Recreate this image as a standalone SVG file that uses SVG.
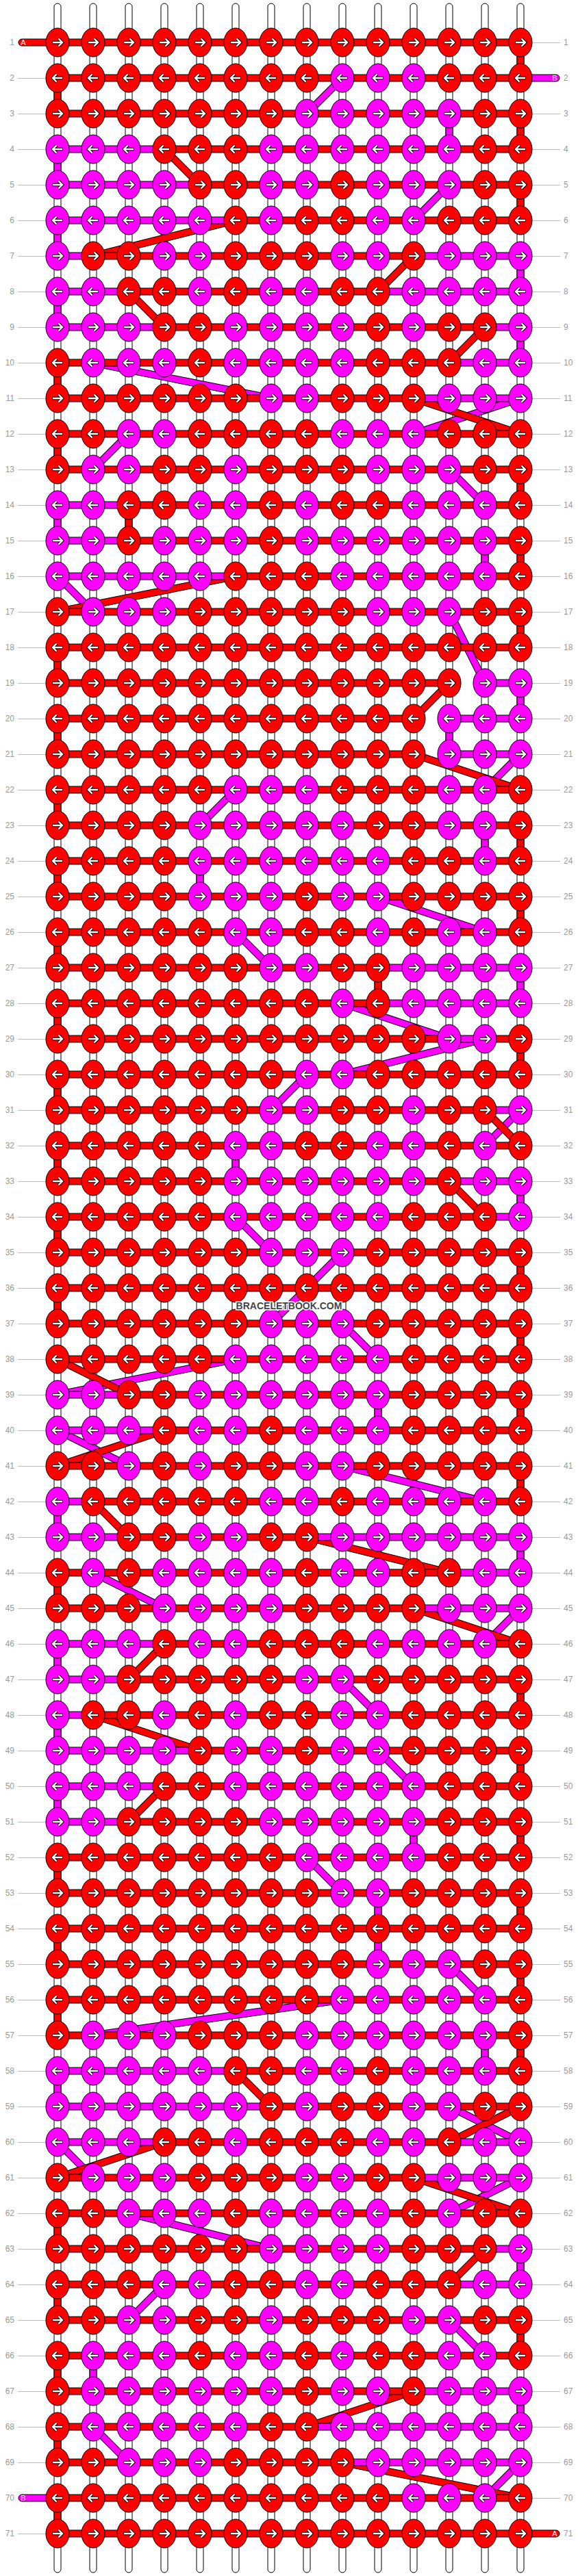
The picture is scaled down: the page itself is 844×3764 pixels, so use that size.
<svg xmlns="http://www.w3.org/2000/svg" xmlns:xlink="http://www.w3.org/1999/xlink" width="844" height="3764" viewBox="0 0 844 3764">
<style>
.st{fill:#fff;stroke:#000;stroke-width:1}
.bR{fill:#f00;stroke:#000;stroke-width:1}
.bM{fill:#f0f;stroke:#000;stroke-width:1}
.gl{stroke:#bbb;stroke-width:1}
.ll{font-family:"Liberation Sans",Arial,sans-serif;font-size:12px;fill:#999;text-anchor:end}
.lr{font-family:"Liberation Sans",Arial,sans-serif;font-size:12px;fill:#999;text-anchor:start}
.tl{font-family:"Liberation Sans",Arial,sans-serif;font-size:11px;fill:#fff;text-anchor:middle}
.wm{font-family:"Liberation Sans",Arial,sans-serif;font-size:14px;font-weight:bold;fill:#444;stroke:#fff;stroke-width:3;paint-order:stroke;text-anchor:middle}
</style>
<defs>
<g id="ar"><path d="M-7.5,0H6.5M1.5,-5.5L7,0L1.5,5.5" fill="none" stroke="#000" stroke-width="4.4"/><path d="M-7,0H6.5M1.5,-5.5L7,0L1.5,5.5" fill="none" stroke="#fff" stroke-width="2.4"/></g>
<g id="al"><use href="#ar" transform="scale(-1,1)"/></g>
<g id="a"><ellipse rx="17" ry="21" fill="#f00" stroke="#000"/><use href="#ar"/></g>
<g id="b"><ellipse rx="17" ry="21" fill="#f0f" stroke="#000"/><use href="#ar"/></g>
<g id="c"><ellipse rx="17" ry="21" fill="#f00" stroke="#000"/><use href="#al"/></g>
<g id="d"><ellipse rx="17" ry="21" fill="#f0f" stroke="#000"/><use href="#al"/></g>
<path id="cm" d="M500,114L448,166M656,166L656,218M84,218L84,270M656,270L604,322M84,322L84,374M760,374L760,426M84,426L84,478M760,478L760,530M136,530L396,582M760,582L604,634M188,634L136,686M656,686L708,738M84,738L84,790M708,790L708,842M84,842L136,894M656,894L708,998M760,998L760,1050M656,1050L656,1102M760,1102L708,1154M344,1154L292,1206M708,1206L708,1258M292,1258L292,1310M552,1310L708,1362M344,1362L396,1414M760,1414L760,1466M500,1466L656,1518M708,1518L500,1570M448,1570L396,1622M760,1622L708,1674M344,1674L344,1726M760,1726L760,1778M344,1778L396,1830M500,1830L396,1934M500,1934L552,1986M344,1986L84,2038M552,2038L552,2090M84,2090L188,2142M500,2142L708,2194M84,2194L84,2246M760,2246L760,2298M136,2298L240,2350M760,2350L708,2402M84,2402L84,2454M500,2454L552,2506M84,2506L84,2558M552,2558L604,2610M84,2610L84,2662M604,2662L604,2714M448,2714L500,2766M552,2766L552,2870M656,2870L708,2922M500,2922L136,2974M708,2974L708,3026M84,3026L84,3078M656,3078L760,3130M84,3130L136,3182M760,3182L656,3234M188,3234L396,3286M760,3286L760,3338M240,3338L188,3390M656,3390L708,3442M136,3442L136,3494M760,3494L760,3546M136,3546L188,3598M760,3598L708,3650"/>
<path id="cr" d="M760,62L760,114M84,114L84,166M760,166L760,218M240,218L292,270M760,270L760,322M344,322L136,374M604,374L552,426M188,426L240,478M708,478L656,530M84,530L84,582M604,582L760,634M84,634L84,686M760,686L760,738M188,738L188,790M760,790L760,842M344,842L84,894M760,894L760,946M84,946L84,998M656,998L604,1050M84,1050L84,1102M604,1102L760,1154M84,1154L84,1206M760,1206L760,1258M84,1258L84,1310M760,1310L760,1362M84,1362L84,1414M552,1414L552,1466M84,1466L84,1518M760,1518L760,1570M84,1570L84,1622M708,1622L760,1674M84,1674L84,1726M656,1726L708,1778M84,1778L84,1830M760,1830L760,1882M84,1882L84,1934M760,1934L760,1986M84,1986L188,2038M760,2038L760,2090M240,2090L84,2142M760,2142L760,2194M136,2194L188,2246M448,2246L656,2298M84,2298L84,2350M604,2350L760,2402M240,2402L188,2454M760,2454L760,2506M136,2506L292,2558M760,2558L760,2610M240,2610L188,2662M760,2662L760,2714M84,2714L84,2766M760,2766L760,2818M84,2818L84,2870M760,2870L760,2922M84,2922L84,2974M760,2974L760,3026M344,3026L396,3078M760,3078L656,3130M240,3130L84,3182M604,3182L760,3234M84,3234L84,3286M708,3286L656,3338M84,3338L84,3390M760,3390L760,3442M84,3442L84,3494M604,3494L448,3546M84,3546L84,3598M500,3598L760,3650M84,3650L84,3702"/>
</defs>
<rect width="844" height="3764" fill="#fff"/>
<g id="strings">
<rect class="st" x="79" y="5" width="10" height="3754" rx="5"/>
<rect class="st" x="131" y="5" width="10" height="3754" rx="5"/>
<rect class="st" x="183" y="5" width="10" height="3754" rx="5"/>
<rect class="st" x="235" y="5" width="10" height="3754" rx="5"/>
<rect class="st" x="287" y="5" width="10" height="3754" rx="5"/>
<rect class="st" x="339" y="5" width="10" height="3754" rx="5"/>
<rect class="st" x="391" y="5" width="10" height="3754" rx="5"/>
<rect class="st" x="443" y="5" width="10" height="3754" rx="5"/>
<rect class="st" x="495" y="5" width="10" height="3754" rx="5"/>
<rect class="st" x="547" y="5" width="10" height="3754" rx="5"/>
<rect class="st" x="599" y="5" width="10" height="3754" rx="5"/>
<rect class="st" x="651" y="5" width="10" height="3754" rx="5"/>
<rect class="st" x="703" y="5" width="10" height="3754" rx="5"/>
<rect class="st" x="755" y="5" width="10" height="3754" rx="5"/>
</g>
<g id="connectors" fill="none">
<use href="#cm" stroke="#000" stroke-width="11"/>
<use href="#cm" stroke="#f0f" stroke-width="9"/>
<use href="#cr" stroke="#000" stroke-width="11"/>
<use href="#cr" stroke="#f00" stroke-width="9"/>
</g>
<g id="row1" transform="translate(0,62)"><line class="gl" x1="777" y1="0.5" x2="818" y2="0.5"/><text class="ll" x="21" y="4">1</text><text class="lr" x="823" y="4">1</text><rect class="bR" x="27" y="-5" width="62" height="10" rx="5"/><text class="tl" x="34" y="4">A</text><rect class="bR" x="84" y="-5" width="676" height="10"/>
<use id="k1_1" href="#a" x="84"/><use id="k1_2" href="#a" x="136"/><use id="k1_3" href="#a" x="188"/><use id="k1_4" href="#a" x="240"/><use id="k1_5" href="#a" x="292"/><use id="k1_6" href="#a" x="344"/><use id="k1_7" href="#a" x="396"/><use id="k1_8" href="#a" x="448"/><use id="k1_9" href="#a" x="500"/><use id="k1_10" href="#a" x="552"/><use id="k1_11" href="#a" x="604"/><use id="k1_12" href="#a" x="656"/><use id="k1_13" href="#a" x="708"/><use id="k1_14" href="#a" x="760"/></g>
<g id="row2" transform="translate(0,114)"><line class="gl" x1="26" y1="0.5" x2="67" y2="0.5"/><text class="ll" x="21" y="4">2</text><text class="lr" x="823" y="4">2</text><rect class="bM" x="755" y="-5" width="62" height="10" rx="5"/><text class="tl" x="810" y="4">B</text><rect class="bR" x="84" y="-5" width="676" height="10"/>
<use id="k2_1" href="#c" x="84"/><use id="k2_2" href="#c" x="136"/><use id="k2_3" href="#c" x="188"/><use id="k2_4" href="#c" x="240"/><use id="k2_5" href="#c" x="292"/><use id="k2_6" href="#c" x="344"/><use id="k2_7" href="#c" x="396"/><use id="k2_8" href="#c" x="448"/><use id="k2_9" href="#d" x="500"/><use id="k2_10" href="#d" x="552"/><use id="k2_11" href="#d" x="604"/><use id="k2_12" href="#c" x="656"/><use id="k2_13" href="#c" x="708"/><use id="k2_14" href="#c" x="760"/></g>
<g id="row3" transform="translate(0,166)"><line class="gl" x1="26" y1="0.5" x2="67" y2="0.5"/><line class="gl" x1="777" y1="0.5" x2="818" y2="0.5"/><text class="ll" x="21" y="4">3</text><text class="lr" x="823" y="4">3</text><rect class="bR" x="84" y="-5" width="676" height="10"/>
<use id="k3_1" href="#a" x="84"/><use id="k3_2" href="#a" x="136"/><use id="k3_3" href="#a" x="188"/><use id="k3_4" href="#a" x="240"/><use id="k3_5" href="#a" x="292"/><use id="k3_6" href="#a" x="344"/><use id="k3_7" href="#a" x="396"/><use id="k3_8" href="#b" x="448"/><use id="k3_9" href="#b" x="500"/><use id="k3_10" href="#b" x="552"/><use id="k3_11" href="#b" x="604"/><use id="k3_12" href="#b" x="656"/><use id="k3_13" href="#a" x="708"/><use id="k3_14" href="#a" x="760"/></g>
<g id="row4" transform="translate(0,218)"><line class="gl" x1="26" y1="0.5" x2="67" y2="0.5"/><line class="gl" x1="777" y1="0.5" x2="818" y2="0.5"/><text class="ll" x="21" y="4">4</text><text class="lr" x="823" y="4">4</text><rect class="bM" x="84" y="-5" width="156" height="10"/><rect class="bR" x="240" y="-5" width="520" height="10"/>
<use id="k4_1" href="#d" x="84"/><use id="k4_2" href="#d" x="136"/><use id="k4_3" href="#d" x="188"/><use id="k4_4" href="#c" x="240"/><use id="k4_5" href="#c" x="292"/><use id="k4_6" href="#c" x="344"/><use id="k4_7" href="#d" x="396"/><use id="k4_8" href="#d" x="448"/><use id="k4_9" href="#d" x="500"/><use id="k4_10" href="#d" x="552"/><use id="k4_11" href="#d" x="604"/><use id="k4_12" href="#d" x="656"/><use id="k4_13" href="#c" x="708"/><use id="k4_14" href="#c" x="760"/></g>
<g id="row5" transform="translate(0,270)"><line class="gl" x1="26" y1="0.5" x2="67" y2="0.5"/><line class="gl" x1="777" y1="0.5" x2="818" y2="0.5"/><text class="ll" x="21" y="4">5</text><text class="lr" x="823" y="4">5</text><rect class="bM" x="84" y="-5" width="208" height="10"/><rect class="bR" x="292" y="-5" width="468" height="10"/>
<use id="k5_1" href="#b" x="84"/><use id="k5_2" href="#b" x="136"/><use id="k5_3" href="#b" x="188"/><use id="k5_4" href="#b" x="240"/><use id="k5_5" href="#a" x="292"/><use id="k5_6" href="#a" x="344"/><use id="k5_7" href="#b" x="396"/><use id="k5_8" href="#b" x="448"/><use id="k5_9" href="#a" x="500"/><use id="k5_10" href="#b" x="552"/><use id="k5_11" href="#b" x="604"/><use id="k5_12" href="#b" x="656"/><use id="k5_13" href="#a" x="708"/><use id="k5_14" href="#a" x="760"/></g>
<g id="row6" transform="translate(0,322)"><line class="gl" x1="26" y1="0.5" x2="67" y2="0.5"/><line class="gl" x1="777" y1="0.5" x2="818" y2="0.5"/><text class="ll" x="21" y="4">6</text><text class="lr" x="823" y="4">6</text><rect class="bM" x="84" y="-5" width="260" height="10"/><rect class="bR" x="344" y="-5" width="416" height="10"/>
<use id="k6_1" href="#d" x="84"/><use id="k6_2" href="#d" x="136"/><use id="k6_3" href="#d" x="188"/><use id="k6_4" href="#d" x="240"/><use id="k6_5" href="#d" x="292"/><use id="k6_6" href="#c" x="344"/><use id="k6_7" href="#d" x="396"/><use id="k6_8" href="#c" x="448"/><use id="k6_9" href="#c" x="500"/><use id="k6_10" href="#d" x="552"/><use id="k6_11" href="#d" x="604"/><use id="k6_12" href="#c" x="656"/><use id="k6_13" href="#c" x="708"/><use id="k6_14" href="#c" x="760"/></g>
<g id="row7" transform="translate(0,374)"><line class="gl" x1="26" y1="0.5" x2="67" y2="0.5"/><line class="gl" x1="777" y1="0.5" x2="818" y2="0.5"/><text class="ll" x="21" y="4">7</text><text class="lr" x="823" y="4">7</text><rect class="bM" x="84" y="-5" width="52" height="10"/><rect class="bR" x="136" y="-5" width="468" height="10"/><rect class="bM" x="604" y="-5" width="156" height="10"/>
<use id="k7_1" href="#b" x="84"/><use id="k7_2" href="#a" x="136"/><use id="k7_3" href="#a" x="188"/><use id="k7_4" href="#b" x="240"/><use id="k7_5" href="#b" x="292"/><use id="k7_6" href="#a" x="344"/><use id="k7_7" href="#a" x="396"/><use id="k7_8" href="#a" x="448"/><use id="k7_9" href="#b" x="500"/><use id="k7_10" href="#b" x="552"/><use id="k7_11" href="#a" x="604"/><use id="k7_12" href="#b" x="656"/><use id="k7_13" href="#b" x="708"/><use id="k7_14" href="#b" x="760"/></g>
<g id="row8" transform="translate(0,426)"><line class="gl" x1="26" y1="0.5" x2="67" y2="0.5"/><line class="gl" x1="777" y1="0.5" x2="818" y2="0.5"/><text class="ll" x="21" y="4">8</text><text class="lr" x="823" y="4">8</text><rect class="bM" x="84" y="-5" width="104" height="10"/><rect class="bR" x="188" y="-5" width="364" height="10"/><rect class="bM" x="552" y="-5" width="208" height="10"/>
<use id="k8_1" href="#d" x="84"/><use id="k8_2" href="#d" x="136"/><use id="k8_3" href="#c" x="188"/><use id="k8_4" href="#c" x="240"/><use id="k8_5" href="#d" x="292"/><use id="k8_6" href="#c" x="344"/><use id="k8_7" href="#d" x="396"/><use id="k8_8" href="#d" x="448"/><use id="k8_9" href="#c" x="500"/><use id="k8_10" href="#c" x="552"/><use id="k8_11" href="#d" x="604"/><use id="k8_12" href="#d" x="656"/><use id="k8_13" href="#d" x="708"/><use id="k8_14" href="#d" x="760"/></g>
<g id="row9" transform="translate(0,478)"><line class="gl" x1="26" y1="0.5" x2="67" y2="0.5"/><line class="gl" x1="777" y1="0.5" x2="818" y2="0.5"/><text class="ll" x="21" y="4">9</text><text class="lr" x="823" y="4">9</text><rect class="bM" x="84" y="-5" width="156" height="10"/><rect class="bR" x="240" y="-5" width="468" height="10"/><rect class="bM" x="708" y="-5" width="52" height="10"/>
<use id="k9_1" href="#b" x="84"/><use id="k9_2" href="#b" x="136"/><use id="k9_3" href="#b" x="188"/><use id="k9_4" href="#a" x="240"/><use id="k9_5" href="#a" x="292"/><use id="k9_6" href="#b" x="344"/><use id="k9_7" href="#b" x="396"/><use id="k9_8" href="#b" x="448"/><use id="k9_9" href="#b" x="500"/><use id="k9_10" href="#a" x="552"/><use id="k9_11" href="#b" x="604"/><use id="k9_12" href="#a" x="656"/><use id="k9_13" href="#a" x="708"/><use id="k9_14" href="#b" x="760"/></g>
<g id="row10" transform="translate(0,530)"><line class="gl" x1="26" y1="0.5" x2="67" y2="0.5"/><line class="gl" x1="777" y1="0.5" x2="818" y2="0.5"/><text class="ll" x="21" y="4">10</text><text class="lr" x="823" y="4">10</text><rect class="bR" x="84" y="-5" width="572" height="10"/><rect class="bM" x="656" y="-5" width="104" height="10"/>
<use id="k10_1" href="#c" x="84"/><use id="k10_2" href="#d" x="136"/><use id="k10_3" href="#d" x="188"/><use id="k10_4" href="#d" x="240"/><use id="k10_5" href="#c" x="292"/><use id="k10_6" href="#d" x="344"/><use id="k10_7" href="#d" x="396"/><use id="k10_8" href="#d" x="448"/><use id="k10_9" href="#d" x="500"/><use id="k10_10" href="#c" x="552"/><use id="k10_11" href="#c" x="604"/><use id="k10_12" href="#c" x="656"/><use id="k10_13" href="#d" x="708"/><use id="k10_14" href="#d" x="760"/></g>
<g id="row11" transform="translate(0,582)"><line class="gl" x1="26" y1="0.5" x2="67" y2="0.5"/><line class="gl" x1="777" y1="0.5" x2="818" y2="0.5"/><text class="ll" x="21" y="4">11</text><text class="lr" x="823" y="4">11</text><rect class="bR" x="84" y="-5" width="520" height="10"/><rect class="bM" x="604" y="-5" width="156" height="10"/>
<use id="k11_1" href="#a" x="84"/><use id="k11_2" href="#a" x="136"/><use id="k11_3" href="#a" x="188"/><use id="k11_4" href="#a" x="240"/><use id="k11_5" href="#a" x="292"/><use id="k11_6" href="#a" x="344"/><use id="k11_7" href="#b" x="396"/><use id="k11_8" href="#b" x="448"/><use id="k11_9" href="#a" x="500"/><use id="k11_10" href="#a" x="552"/><use id="k11_11" href="#a" x="604"/><use id="k11_12" href="#b" x="656"/><use id="k11_13" href="#b" x="708"/><use id="k11_14" href="#b" x="760"/></g>
<g id="row12" transform="translate(0,634)"><line class="gl" x1="26" y1="0.5" x2="67" y2="0.5"/><line class="gl" x1="777" y1="0.5" x2="818" y2="0.5"/><text class="ll" x="21" y="4">12</text><text class="lr" x="823" y="4">12</text><rect class="bR" x="84" y="-5" width="676" height="10"/>
<use id="k12_1" href="#c" x="84"/><use id="k12_2" href="#c" x="136"/><use id="k12_3" href="#d" x="188"/><use id="k12_4" href="#d" x="240"/><use id="k12_5" href="#c" x="292"/><use id="k12_6" href="#c" x="344"/><use id="k12_7" href="#c" x="396"/><use id="k12_8" href="#c" x="448"/><use id="k12_9" href="#d" x="500"/><use id="k12_10" href="#d" x="552"/><use id="k12_11" href="#d" x="604"/><use id="k12_12" href="#c" x="656"/><use id="k12_13" href="#c" x="708"/><use id="k12_14" href="#c" x="760"/></g>
<g id="row13" transform="translate(0,686)"><line class="gl" x1="26" y1="0.5" x2="67" y2="0.5"/><line class="gl" x1="777" y1="0.5" x2="818" y2="0.5"/><text class="ll" x="21" y="4">13</text><text class="lr" x="823" y="4">13</text><rect class="bR" x="84" y="-5" width="676" height="10"/>
<use id="k13_1" href="#a" x="84"/><use id="k13_2" href="#b" x="136"/><use id="k13_3" href="#b" x="188"/><use id="k13_4" href="#a" x="240"/><use id="k13_5" href="#a" x="292"/><use id="k13_6" href="#b" x="344"/><use id="k13_7" href="#a" x="396"/><use id="k13_8" href="#a" x="448"/><use id="k13_9" href="#a" x="500"/><use id="k13_10" href="#b" x="552"/><use id="k13_11" href="#b" x="604"/><use id="k13_12" href="#b" x="656"/><use id="k13_13" href="#a" x="708"/><use id="k13_14" href="#a" x="760"/></g>
<g id="row14" transform="translate(0,738)"><line class="gl" x1="26" y1="0.5" x2="67" y2="0.5"/><line class="gl" x1="777" y1="0.5" x2="818" y2="0.5"/><text class="ll" x="21" y="4">14</text><text class="lr" x="823" y="4">14</text><rect class="bM" x="84" y="-5" width="104" height="10"/><rect class="bR" x="188" y="-5" width="572" height="10"/>
<use id="k14_1" href="#d" x="84"/><use id="k14_2" href="#d" x="136"/><use id="k14_3" href="#c" x="188"/><use id="k14_4" href="#c" x="240"/><use id="k14_5" href="#d" x="292"/><use id="k14_6" href="#d" x="344"/><use id="k14_7" href="#c" x="396"/><use id="k14_8" href="#d" x="448"/><use id="k14_9" href="#c" x="500"/><use id="k14_10" href="#c" x="552"/><use id="k14_11" href="#d" x="604"/><use id="k14_12" href="#d" x="656"/><use id="k14_13" href="#d" x="708"/><use id="k14_14" href="#c" x="760"/></g>
<g id="row15" transform="translate(0,790)"><line class="gl" x1="26" y1="0.5" x2="67" y2="0.5"/><line class="gl" x1="777" y1="0.5" x2="818" y2="0.5"/><text class="ll" x="21" y="4">15</text><text class="lr" x="823" y="4">15</text><rect class="bM" x="84" y="-5" width="104" height="10"/><rect class="bR" x="188" y="-5" width="572" height="10"/>
<use id="k15_1" href="#b" x="84"/><use id="k15_2" href="#b" x="136"/><use id="k15_3" href="#a" x="188"/><use id="k15_4" href="#b" x="240"/><use id="k15_5" href="#b" x="292"/><use id="k15_6" href="#b" x="344"/><use id="k15_7" href="#a" x="396"/><use id="k15_8" href="#b" x="448"/><use id="k15_9" href="#b" x="500"/><use id="k15_10" href="#b" x="552"/><use id="k15_11" href="#b" x="604"/><use id="k15_12" href="#b" x="656"/><use id="k15_13" href="#b" x="708"/><use id="k15_14" href="#a" x="760"/></g>
<g id="row16" transform="translate(0,842)"><line class="gl" x1="26" y1="0.5" x2="67" y2="0.5"/><line class="gl" x1="777" y1="0.5" x2="818" y2="0.5"/><text class="ll" x="21" y="4">16</text><text class="lr" x="823" y="4">16</text><rect class="bM" x="84" y="-5" width="260" height="10"/><rect class="bR" x="344" y="-5" width="416" height="10"/>
<use id="k16_1" href="#d" x="84"/><use id="k16_2" href="#d" x="136"/><use id="k16_3" href="#d" x="188"/><use id="k16_4" href="#d" x="240"/><use id="k16_5" href="#d" x="292"/><use id="k16_6" href="#c" x="344"/><use id="k16_7" href="#c" x="396"/><use id="k16_8" href="#c" x="448"/><use id="k16_9" href="#d" x="500"/><use id="k16_10" href="#d" x="552"/><use id="k16_11" href="#d" x="604"/><use id="k16_12" href="#d" x="656"/><use id="k16_13" href="#d" x="708"/><use id="k16_14" href="#c" x="760"/></g>
<g id="row17" transform="translate(0,894)"><line class="gl" x1="26" y1="0.5" x2="67" y2="0.5"/><line class="gl" x1="777" y1="0.5" x2="818" y2="0.5"/><text class="ll" x="21" y="4">17</text><text class="lr" x="823" y="4">17</text><rect class="bR" x="84" y="-5" width="676" height="10"/>
<use id="k17_1" href="#a" x="84"/><use id="k17_2" href="#b" x="136"/><use id="k17_3" href="#b" x="188"/><use id="k17_4" href="#b" x="240"/><use id="k17_5" href="#a" x="292"/><use id="k17_6" href="#a" x="344"/><use id="k17_7" href="#a" x="396"/><use id="k17_8" href="#a" x="448"/><use id="k17_9" href="#a" x="500"/><use id="k17_10" href="#b" x="552"/><use id="k17_11" href="#b" x="604"/><use id="k17_12" href="#b" x="656"/><use id="k17_13" href="#a" x="708"/><use id="k17_14" href="#a" x="760"/></g>
<g id="row18" transform="translate(0,946)"><line class="gl" x1="26" y1="0.5" x2="67" y2="0.5"/><line class="gl" x1="777" y1="0.5" x2="818" y2="0.5"/><text class="ll" x="21" y="4">18</text><text class="lr" x="823" y="4">18</text><rect class="bR" x="84" y="-5" width="676" height="10"/>
<use id="k18_1" href="#c" x="84"/><use id="k18_2" href="#c" x="136"/><use id="k18_3" href="#c" x="188"/><use id="k18_4" href="#c" x="240"/><use id="k18_5" href="#c" x="292"/><use id="k18_6" href="#c" x="344"/><use id="k18_7" href="#c" x="396"/><use id="k18_8" href="#c" x="448"/><use id="k18_9" href="#c" x="500"/><use id="k18_10" href="#c" x="552"/><use id="k18_11" href="#c" x="604"/><use id="k18_12" href="#c" x="656"/><use id="k18_13" href="#c" x="708"/><use id="k18_14" href="#c" x="760"/></g>
<g id="row19" transform="translate(0,998)"><line class="gl" x1="26" y1="0.5" x2="67" y2="0.5"/><line class="gl" x1="777" y1="0.5" x2="818" y2="0.5"/><text class="ll" x="21" y="4">19</text><text class="lr" x="823" y="4">19</text><rect class="bR" x="84" y="-5" width="572" height="10"/><rect class="bM" x="708" y="-5" width="52" height="10"/>
<use id="k19_1" href="#a" x="84"/><use id="k19_2" href="#a" x="136"/><use id="k19_3" href="#a" x="188"/><use id="k19_4" href="#a" x="240"/><use id="k19_5" href="#a" x="292"/><use id="k19_6" href="#a" x="344"/><use id="k19_7" href="#a" x="396"/><use id="k19_8" href="#a" x="448"/><use id="k19_9" href="#a" x="500"/><use id="k19_10" href="#a" x="552"/><use id="k19_11" href="#a" x="604"/><use id="k19_12" href="#a" x="656"/><use id="k19_13" href="#b" x="708"/><use id="k19_14" href="#b" x="760"/></g>
<g id="row20" transform="translate(0,1050)"><line class="gl" x1="26" y1="0.5" x2="67" y2="0.5"/><line class="gl" x1="777" y1="0.5" x2="818" y2="0.5"/><text class="ll" x="21" y="4">20</text><text class="lr" x="823" y="4">20</text><rect class="bR" x="84" y="-5" width="520" height="10"/><rect class="bM" x="656" y="-5" width="104" height="10"/>
<use id="k20_1" href="#c" x="84"/><use id="k20_2" href="#c" x="136"/><use id="k20_3" href="#c" x="188"/><use id="k20_4" href="#c" x="240"/><use id="k20_5" href="#c" x="292"/><use id="k20_6" href="#c" x="344"/><use id="k20_7" href="#c" x="396"/><use id="k20_8" href="#c" x="448"/><use id="k20_9" href="#c" x="500"/><use id="k20_10" href="#c" x="552"/><use id="k20_11" href="#c" x="604"/><use id="k20_12" href="#d" x="656"/><use id="k20_13" href="#d" x="708"/><use id="k20_14" href="#d" x="760"/></g>
<g id="row21" transform="translate(0,1102)"><line class="gl" x1="26" y1="0.5" x2="67" y2="0.5"/><line class="gl" x1="777" y1="0.5" x2="818" y2="0.5"/><text class="ll" x="21" y="4">21</text><text class="lr" x="823" y="4">21</text><rect class="bR" x="84" y="-5" width="520" height="10"/><rect class="bM" x="656" y="-5" width="104" height="10"/>
<use id="k21_1" href="#a" x="84"/><use id="k21_2" href="#a" x="136"/><use id="k21_3" href="#a" x="188"/><use id="k21_4" href="#a" x="240"/><use id="k21_5" href="#a" x="292"/><use id="k21_6" href="#a" x="344"/><use id="k21_7" href="#a" x="396"/><use id="k21_8" href="#a" x="448"/><use id="k21_9" href="#a" x="500"/><use id="k21_10" href="#a" x="552"/><use id="k21_11" href="#a" x="604"/><use id="k21_12" href="#b" x="656"/><use id="k21_13" href="#b" x="708"/><use id="k21_14" href="#b" x="760"/></g>
<g id="row22" transform="translate(0,1154)"><line class="gl" x1="26" y1="0.5" x2="67" y2="0.5"/><line class="gl" x1="777" y1="0.5" x2="818" y2="0.5"/><text class="ll" x="21" y="4">22</text><text class="lr" x="823" y="4">22</text><rect class="bR" x="84" y="-5" width="676" height="10"/>
<use id="k22_1" href="#c" x="84"/><use id="k22_2" href="#c" x="136"/><use id="k22_3" href="#c" x="188"/><use id="k22_4" href="#c" x="240"/><use id="k22_5" href="#c" x="292"/><use id="k22_6" href="#d" x="344"/><use id="k22_7" href="#d" x="396"/><use id="k22_8" href="#d" x="448"/><use id="k22_9" href="#c" x="500"/><use id="k22_10" href="#c" x="552"/><use id="k22_11" href="#c" x="604"/><use id="k22_12" href="#d" x="656"/><use id="k22_13" href="#d" x="708"/><use id="k22_14" href="#c" x="760"/></g>
<g id="row23" transform="translate(0,1206)"><line class="gl" x1="26" y1="0.5" x2="67" y2="0.5"/><line class="gl" x1="777" y1="0.5" x2="818" y2="0.5"/><text class="ll" x="21" y="4">23</text><text class="lr" x="823" y="4">23</text><rect class="bR" x="84" y="-5" width="676" height="10"/>
<use id="k23_1" href="#a" x="84"/><use id="k23_2" href="#a" x="136"/><use id="k23_3" href="#a" x="188"/><use id="k23_4" href="#a" x="240"/><use id="k23_5" href="#b" x="292"/><use id="k23_6" href="#b" x="344"/><use id="k23_7" href="#b" x="396"/><use id="k23_8" href="#b" x="448"/><use id="k23_9" href="#b" x="500"/><use id="k23_10" href="#a" x="552"/><use id="k23_11" href="#a" x="604"/><use id="k23_12" href="#b" x="656"/><use id="k23_13" href="#b" x="708"/><use id="k23_14" href="#a" x="760"/></g>
<g id="row24" transform="translate(0,1258)"><line class="gl" x1="26" y1="0.5" x2="67" y2="0.5"/><line class="gl" x1="777" y1="0.5" x2="818" y2="0.5"/><text class="ll" x="21" y="4">24</text><text class="lr" x="823" y="4">24</text><rect class="bR" x="84" y="-5" width="676" height="10"/>
<use id="k24_1" href="#c" x="84"/><use id="k24_2" href="#c" x="136"/><use id="k24_3" href="#c" x="188"/><use id="k24_4" href="#c" x="240"/><use id="k24_5" href="#d" x="292"/><use id="k24_6" href="#d" x="344"/><use id="k24_7" href="#d" x="396"/><use id="k24_8" href="#d" x="448"/><use id="k24_9" href="#d" x="500"/><use id="k24_10" href="#d" x="552"/><use id="k24_11" href="#c" x="604"/><use id="k24_12" href="#c" x="656"/><use id="k24_13" href="#d" x="708"/><use id="k24_14" href="#c" x="760"/></g>
<g id="row25" transform="translate(0,1310)"><line class="gl" x1="26" y1="0.5" x2="67" y2="0.5"/><line class="gl" x1="777" y1="0.5" x2="818" y2="0.5"/><text class="ll" x="21" y="4">25</text><text class="lr" x="823" y="4">25</text><rect class="bR" x="84" y="-5" width="676" height="10"/>
<use id="k25_1" href="#a" x="84"/><use id="k25_2" href="#a" x="136"/><use id="k25_3" href="#a" x="188"/><use id="k25_4" href="#a" x="240"/><use id="k25_5" href="#b" x="292"/><use id="k25_6" href="#b" x="344"/><use id="k25_7" href="#b" x="396"/><use id="k25_8" href="#a" x="448"/><use id="k25_9" href="#b" x="500"/><use id="k25_10" href="#b" x="552"/><use id="k25_11" href="#a" x="604"/><use id="k25_12" href="#a" x="656"/><use id="k25_13" href="#a" x="708"/><use id="k25_14" href="#a" x="760"/></g>
<g id="row26" transform="translate(0,1362)"><line class="gl" x1="26" y1="0.5" x2="67" y2="0.5"/><line class="gl" x1="777" y1="0.5" x2="818" y2="0.5"/><text class="ll" x="21" y="4">26</text><text class="lr" x="823" y="4">26</text><rect class="bR" x="84" y="-5" width="676" height="10"/>
<use id="k26_1" href="#c" x="84"/><use id="k26_2" href="#c" x="136"/><use id="k26_3" href="#c" x="188"/><use id="k26_4" href="#c" x="240"/><use id="k26_5" href="#c" x="292"/><use id="k26_6" href="#d" x="344"/><use id="k26_7" href="#d" x="396"/><use id="k26_8" href="#c" x="448"/><use id="k26_9" href="#c" x="500"/><use id="k26_10" href="#d" x="552"/><use id="k26_11" href="#c" x="604"/><use id="k26_12" href="#d" x="656"/><use id="k26_13" href="#d" x="708"/><use id="k26_14" href="#c" x="760"/></g>
<g id="row27" transform="translate(0,1414)"><line class="gl" x1="26" y1="0.5" x2="67" y2="0.5"/><line class="gl" x1="777" y1="0.5" x2="818" y2="0.5"/><text class="ll" x="21" y="4">27</text><text class="lr" x="823" y="4">27</text><rect class="bR" x="84" y="-5" width="468" height="10"/><rect class="bM" x="552" y="-5" width="208" height="10"/>
<use id="k27_1" href="#a" x="84"/><use id="k27_2" href="#a" x="136"/><use id="k27_3" href="#a" x="188"/><use id="k27_4" href="#a" x="240"/><use id="k27_5" href="#a" x="292"/><use id="k27_6" href="#a" x="344"/><use id="k27_7" href="#b" x="396"/><use id="k27_8" href="#b" x="448"/><use id="k27_9" href="#a" x="500"/><use id="k27_10" href="#a" x="552"/><use id="k27_11" href="#b" x="604"/><use id="k27_12" href="#b" x="656"/><use id="k27_13" href="#b" x="708"/><use id="k27_14" href="#b" x="760"/></g>
<g id="row28" transform="translate(0,1466)"><line class="gl" x1="26" y1="0.5" x2="67" y2="0.5"/><line class="gl" x1="777" y1="0.5" x2="818" y2="0.5"/><text class="ll" x="21" y="4">28</text><text class="lr" x="823" y="4">28</text><rect class="bR" x="84" y="-5" width="468" height="10"/><rect class="bM" x="552" y="-5" width="208" height="10"/>
<use id="k28_1" href="#c" x="84"/><use id="k28_2" href="#c" x="136"/><use id="k28_3" href="#c" x="188"/><use id="k28_4" href="#c" x="240"/><use id="k28_5" href="#c" x="292"/><use id="k28_6" href="#c" x="344"/><use id="k28_7" href="#c" x="396"/><use id="k28_8" href="#c" x="448"/><use id="k28_9" href="#d" x="500"/><use id="k28_10" href="#c" x="552"/><use id="k28_11" href="#d" x="604"/><use id="k28_12" href="#d" x="656"/><use id="k28_13" href="#d" x="708"/><use id="k28_14" href="#d" x="760"/></g>
<g id="row29" transform="translate(0,1518)"><line class="gl" x1="26" y1="0.5" x2="67" y2="0.5"/><line class="gl" x1="777" y1="0.5" x2="818" y2="0.5"/><text class="ll" x="21" y="4">29</text><text class="lr" x="823" y="4">29</text><rect class="bR" x="84" y="-5" width="572" height="10"/><rect class="bM" x="656" y="-5" width="52" height="10"/><rect class="bR" x="708" y="-5" width="52" height="10"/>
<use id="k29_1" href="#a" x="84"/><use id="k29_2" href="#a" x="136"/><use id="k29_3" href="#a" x="188"/><use id="k29_4" href="#a" x="240"/><use id="k29_5" href="#a" x="292"/><use id="k29_6" href="#a" x="344"/><use id="k29_7" href="#a" x="396"/><use id="k29_8" href="#a" x="448"/><use id="k29_9" href="#a" x="500"/><use id="k29_10" href="#a" x="552"/><use id="k29_11" href="#a" x="604"/><use id="k29_12" href="#b" x="656"/><use id="k29_13" href="#b" x="708"/><use id="k29_14" href="#a" x="760"/></g>
<g id="row30" transform="translate(0,1570)"><line class="gl" x1="26" y1="0.5" x2="67" y2="0.5"/><line class="gl" x1="777" y1="0.5" x2="818" y2="0.5"/><text class="ll" x="21" y="4">30</text><text class="lr" x="823" y="4">30</text><rect class="bR" x="84" y="-5" width="676" height="10"/>
<use id="k30_1" href="#c" x="84"/><use id="k30_2" href="#c" x="136"/><use id="k30_3" href="#c" x="188"/><use id="k30_4" href="#c" x="240"/><use id="k30_5" href="#c" x="292"/><use id="k30_6" href="#c" x="344"/><use id="k30_7" href="#c" x="396"/><use id="k30_8" href="#d" x="448"/><use id="k30_9" href="#d" x="500"/><use id="k30_10" href="#c" x="552"/><use id="k30_11" href="#c" x="604"/><use id="k30_12" href="#c" x="656"/><use id="k30_13" href="#c" x="708"/><use id="k30_14" href="#c" x="760"/></g>
<g id="row31" transform="translate(0,1622)"><line class="gl" x1="26" y1="0.5" x2="67" y2="0.5"/><line class="gl" x1="777" y1="0.5" x2="818" y2="0.5"/><text class="ll" x="21" y="4">31</text><text class="lr" x="823" y="4">31</text><rect class="bR" x="84" y="-5" width="624" height="10"/><rect class="bM" x="708" y="-5" width="52" height="10"/>
<use id="k31_1" href="#a" x="84"/><use id="k31_2" href="#a" x="136"/><use id="k31_3" href="#a" x="188"/><use id="k31_4" href="#a" x="240"/><use id="k31_5" href="#a" x="292"/><use id="k31_6" href="#a" x="344"/><use id="k31_7" href="#b" x="396"/><use id="k31_8" href="#b" x="448"/><use id="k31_9" href="#a" x="500"/><use id="k31_10" href="#a" x="552"/><use id="k31_11" href="#b" x="604"/><use id="k31_12" href="#a" x="656"/><use id="k31_13" href="#a" x="708"/><use id="k31_14" href="#b" x="760"/></g>
<g id="row32" transform="translate(0,1674)"><line class="gl" x1="26" y1="0.5" x2="67" y2="0.5"/><line class="gl" x1="777" y1="0.5" x2="818" y2="0.5"/><text class="ll" x="21" y="4">32</text><text class="lr" x="823" y="4">32</text><rect class="bR" x="84" y="-5" width="676" height="10"/>
<use id="k32_1" href="#c" x="84"/><use id="k32_2" href="#c" x="136"/><use id="k32_3" href="#c" x="188"/><use id="k32_4" href="#c" x="240"/><use id="k32_5" href="#c" x="292"/><use id="k32_6" href="#d" x="344"/><use id="k32_7" href="#d" x="396"/><use id="k32_8" href="#c" x="448"/><use id="k32_9" href="#c" x="500"/><use id="k32_10" href="#d" x="552"/><use id="k32_11" href="#d" x="604"/><use id="k32_12" href="#c" x="656"/><use id="k32_13" href="#d" x="708"/><use id="k32_14" href="#c" x="760"/></g>
<g id="row33" transform="translate(0,1726)"><line class="gl" x1="26" y1="0.5" x2="67" y2="0.5"/><line class="gl" x1="777" y1="0.5" x2="818" y2="0.5"/><text class="ll" x="21" y="4">33</text><text class="lr" x="823" y="4">33</text><rect class="bR" x="84" y="-5" width="572" height="10"/><rect class="bM" x="656" y="-5" width="104" height="10"/>
<use id="k33_1" href="#a" x="84"/><use id="k33_2" href="#a" x="136"/><use id="k33_3" href="#a" x="188"/><use id="k33_4" href="#a" x="240"/><use id="k33_5" href="#a" x="292"/><use id="k33_6" href="#b" x="344"/><use id="k33_7" href="#b" x="396"/><use id="k33_8" href="#b" x="448"/><use id="k33_9" href="#b" x="500"/><use id="k33_10" href="#b" x="552"/><use id="k33_11" href="#b" x="604"/><use id="k33_12" href="#a" x="656"/><use id="k33_13" href="#b" x="708"/><use id="k33_14" href="#b" x="760"/></g>
<g id="row34" transform="translate(0,1778)"><line class="gl" x1="26" y1="0.5" x2="67" y2="0.5"/><line class="gl" x1="777" y1="0.5" x2="818" y2="0.5"/><text class="ll" x="21" y="4">34</text><text class="lr" x="823" y="4">34</text><rect class="bR" x="84" y="-5" width="624" height="10"/><rect class="bM" x="708" y="-5" width="52" height="10"/>
<use id="k34_1" href="#c" x="84"/><use id="k34_2" href="#c" x="136"/><use id="k34_3" href="#c" x="188"/><use id="k34_4" href="#c" x="240"/><use id="k34_5" href="#c" x="292"/><use id="k34_6" href="#d" x="344"/><use id="k34_7" href="#d" x="396"/><use id="k34_8" href="#d" x="448"/><use id="k34_9" href="#d" x="500"/><use id="k34_10" href="#d" x="552"/><use id="k34_11" href="#c" x="604"/><use id="k34_12" href="#c" x="656"/><use id="k34_13" href="#c" x="708"/><use id="k34_14" href="#d" x="760"/></g>
<g id="row35" transform="translate(0,1830)"><line class="gl" x1="26" y1="0.5" x2="67" y2="0.5"/><line class="gl" x1="777" y1="0.5" x2="818" y2="0.5"/><text class="ll" x="21" y="4">35</text><text class="lr" x="823" y="4">35</text><rect class="bR" x="84" y="-5" width="676" height="10"/>
<use id="k35_1" href="#a" x="84"/><use id="k35_2" href="#a" x="136"/><use id="k35_3" href="#a" x="188"/><use id="k35_4" href="#a" x="240"/><use id="k35_5" href="#a" x="292"/><use id="k35_6" href="#a" x="344"/><use id="k35_7" href="#b" x="396"/><use id="k35_8" href="#b" x="448"/><use id="k35_9" href="#b" x="500"/><use id="k35_10" href="#a" x="552"/><use id="k35_11" href="#a" x="604"/><use id="k35_12" href="#a" x="656"/><use id="k35_13" href="#a" x="708"/><use id="k35_14" href="#a" x="760"/></g>
<g id="row36" transform="translate(0,1882)"><line class="gl" x1="26" y1="0.5" x2="67" y2="0.5"/><line class="gl" x1="777" y1="0.5" x2="818" y2="0.5"/><text class="ll" x="21" y="4">36</text><text class="lr" x="823" y="4">36</text><rect class="bR" x="84" y="-5" width="676" height="10"/>
<use id="k36_1" href="#c" x="84"/><use id="k36_2" href="#c" x="136"/><use id="k36_3" href="#c" x="188"/><use id="k36_4" href="#c" x="240"/><use id="k36_5" href="#c" x="292"/><use id="k36_6" href="#c" x="344"/><use id="k36_7" href="#c" x="396"/><use id="k36_8" href="#c" x="448"/><use id="k36_9" href="#c" x="500"/><use id="k36_10" href="#c" x="552"/><use id="k36_11" href="#c" x="604"/><use id="k36_12" href="#c" x="656"/><use id="k36_13" href="#c" x="708"/><use id="k36_14" href="#c" x="760"/></g>
<g id="row37" transform="translate(0,1934)"><line class="gl" x1="26" y1="0.5" x2="67" y2="0.5"/><line class="gl" x1="777" y1="0.5" x2="818" y2="0.5"/><text class="ll" x="21" y="4">37</text><text class="lr" x="823" y="4">37</text><rect class="bR" x="84" y="-5" width="676" height="10"/>
<use id="k37_1" href="#a" x="84"/><use id="k37_2" href="#a" x="136"/><use id="k37_3" href="#a" x="188"/><use id="k37_4" href="#a" x="240"/><use id="k37_5" href="#a" x="292"/><use id="k37_6" href="#a" x="344"/><use id="k37_7" href="#b" x="396"/><use id="k37_8" href="#b" x="448"/><use id="k37_9" href="#b" x="500"/><use id="k37_10" href="#a" x="552"/><use id="k37_11" href="#a" x="604"/><use id="k37_12" href="#a" x="656"/><use id="k37_13" href="#a" x="708"/><use id="k37_14" href="#a" x="760"/></g>
<g id="row38" transform="translate(0,1986)"><line class="gl" x1="26" y1="0.5" x2="67" y2="0.5"/><line class="gl" x1="777" y1="0.5" x2="818" y2="0.5"/><text class="ll" x="21" y="4">38</text><text class="lr" x="823" y="4">38</text><rect class="bR" x="84" y="-5" width="676" height="10"/>
<use id="k38_1" href="#c" x="84"/><use id="k38_2" href="#c" x="136"/><use id="k38_3" href="#c" x="188"/><use id="k38_4" href="#c" x="240"/><use id="k38_5" href="#c" x="292"/><use id="k38_6" href="#d" x="344"/><use id="k38_7" href="#d" x="396"/><use id="k38_8" href="#d" x="448"/><use id="k38_9" href="#d" x="500"/><use id="k38_10" href="#d" x="552"/><use id="k38_11" href="#c" x="604"/><use id="k38_12" href="#c" x="656"/><use id="k38_13" href="#c" x="708"/><use id="k38_14" href="#c" x="760"/></g>
<g id="row39" transform="translate(0,2038)"><line class="gl" x1="26" y1="0.5" x2="67" y2="0.5"/><line class="gl" x1="777" y1="0.5" x2="818" y2="0.5"/><text class="ll" x="21" y="4">39</text><text class="lr" x="823" y="4">39</text><rect class="bM" x="84" y="-5" width="104" height="10"/><rect class="bR" x="188" y="-5" width="572" height="10"/>
<use id="k39_1" href="#b" x="84"/><use id="k39_2" href="#b" x="136"/><use id="k39_3" href="#a" x="188"/><use id="k39_4" href="#a" x="240"/><use id="k39_5" href="#b" x="292"/><use id="k39_6" href="#b" x="344"/><use id="k39_7" href="#b" x="396"/><use id="k39_8" href="#b" x="448"/><use id="k39_9" href="#b" x="500"/><use id="k39_10" href="#b" x="552"/><use id="k39_11" href="#a" x="604"/><use id="k39_12" href="#a" x="656"/><use id="k39_13" href="#a" x="708"/><use id="k39_14" href="#a" x="760"/></g>
<g id="row40" transform="translate(0,2090)"><line class="gl" x1="26" y1="0.5" x2="67" y2="0.5"/><line class="gl" x1="777" y1="0.5" x2="818" y2="0.5"/><text class="ll" x="21" y="4">40</text><text class="lr" x="823" y="4">40</text><rect class="bM" x="84" y="-5" width="156" height="10"/><rect class="bR" x="240" y="-5" width="520" height="10"/>
<use id="k40_1" href="#d" x="84"/><use id="k40_2" href="#d" x="136"/><use id="k40_3" href="#d" x="188"/><use id="k40_4" href="#c" x="240"/><use id="k40_5" href="#d" x="292"/><use id="k40_6" href="#d" x="344"/><use id="k40_7" href="#c" x="396"/><use id="k40_8" href="#d" x="448"/><use id="k40_9" href="#d" x="500"/><use id="k40_10" href="#d" x="552"/><use id="k40_11" href="#c" x="604"/><use id="k40_12" href="#c" x="656"/><use id="k40_13" href="#c" x="708"/><use id="k40_14" href="#c" x="760"/></g>
<g id="row41" transform="translate(0,2142)"><line class="gl" x1="26" y1="0.5" x2="67" y2="0.5"/><line class="gl" x1="777" y1="0.5" x2="818" y2="0.5"/><text class="ll" x="21" y="4">41</text><text class="lr" x="823" y="4">41</text><rect class="bR" x="84" y="-5" width="676" height="10"/>
<use id="k41_1" href="#a" x="84"/><use id="k41_2" href="#a" x="136"/><use id="k41_3" href="#b" x="188"/><use id="k41_4" href="#a" x="240"/><use id="k41_5" href="#b" x="292"/><use id="k41_6" href="#a" x="344"/><use id="k41_7" href="#a" x="396"/><use id="k41_8" href="#b" x="448"/><use id="k41_9" href="#b" x="500"/><use id="k41_10" href="#a" x="552"/><use id="k41_11" href="#a" x="604"/><use id="k41_12" href="#a" x="656"/><use id="k41_13" href="#a" x="708"/><use id="k41_14" href="#a" x="760"/></g>
<g id="row42" transform="translate(0,2194)"><line class="gl" x1="26" y1="0.5" x2="67" y2="0.5"/><line class="gl" x1="777" y1="0.5" x2="818" y2="0.5"/><text class="ll" x="21" y="4">42</text><text class="lr" x="823" y="4">42</text><rect class="bM" x="84" y="-5" width="52" height="10"/><rect class="bR" x="136" y="-5" width="624" height="10"/>
<use id="k42_1" href="#d" x="84"/><use id="k42_2" href="#c" x="136"/><use id="k42_3" href="#c" x="188"/><use id="k42_4" href="#c" x="240"/><use id="k42_5" href="#c" x="292"/><use id="k42_6" href="#c" x="344"/><use id="k42_7" href="#d" x="396"/><use id="k42_8" href="#d" x="448"/><use id="k42_9" href="#c" x="500"/><use id="k42_10" href="#d" x="552"/><use id="k42_11" href="#d" x="604"/><use id="k42_12" href="#d" x="656"/><use id="k42_13" href="#d" x="708"/><use id="k42_14" href="#c" x="760"/></g>
<g id="row43" transform="translate(0,2246)"><line class="gl" x1="26" y1="0.5" x2="67" y2="0.5"/><line class="gl" x1="777" y1="0.5" x2="818" y2="0.5"/><text class="ll" x="21" y="4">43</text><text class="lr" x="823" y="4">43</text><rect class="bM" x="84" y="-5" width="104" height="10"/><rect class="bR" x="188" y="-5" width="260" height="10"/><rect class="bM" x="448" y="-5" width="312" height="10"/>
<use id="k43_1" href="#b" x="84"/><use id="k43_2" href="#b" x="136"/><use id="k43_3" href="#a" x="188"/><use id="k43_4" href="#a" x="240"/><use id="k43_5" href="#b" x="292"/><use id="k43_6" href="#b" x="344"/><use id="k43_7" href="#a" x="396"/><use id="k43_8" href="#a" x="448"/><use id="k43_9" href="#b" x="500"/><use id="k43_10" href="#b" x="552"/><use id="k43_11" href="#b" x="604"/><use id="k43_12" href="#b" x="656"/><use id="k43_13" href="#b" x="708"/><use id="k43_14" href="#b" x="760"/></g>
<g id="row44" transform="translate(0,2298)"><line class="gl" x1="26" y1="0.5" x2="67" y2="0.5"/><line class="gl" x1="777" y1="0.5" x2="818" y2="0.5"/><text class="ll" x="21" y="4">44</text><text class="lr" x="823" y="4">44</text><rect class="bR" x="84" y="-5" width="572" height="10"/><rect class="bM" x="656" y="-5" width="104" height="10"/>
<use id="k44_1" href="#c" x="84"/><use id="k44_2" href="#d" x="136"/><use id="k44_3" href="#c" x="188"/><use id="k44_4" href="#d" x="240"/><use id="k44_5" href="#d" x="292"/><use id="k44_6" href="#d" x="344"/><use id="k44_7" href="#d" x="396"/><use id="k44_8" href="#c" x="448"/><use id="k44_9" href="#d" x="500"/><use id="k44_10" href="#d" x="552"/><use id="k44_11" href="#c" x="604"/><use id="k44_12" href="#c" x="656"/><use id="k44_13" href="#d" x="708"/><use id="k44_14" href="#d" x="760"/></g>
<g id="row45" transform="translate(0,2350)"><line class="gl" x1="26" y1="0.5" x2="67" y2="0.5"/><line class="gl" x1="777" y1="0.5" x2="818" y2="0.5"/><text class="ll" x="21" y="4">45</text><text class="lr" x="823" y="4">45</text><rect class="bR" x="84" y="-5" width="520" height="10"/><rect class="bM" x="604" y="-5" width="156" height="10"/>
<use id="k45_1" href="#a" x="84"/><use id="k45_2" href="#a" x="136"/><use id="k45_3" href="#a" x="188"/><use id="k45_4" href="#b" x="240"/><use id="k45_5" href="#b" x="292"/><use id="k45_6" href="#b" x="344"/><use id="k45_7" href="#b" x="396"/><use id="k45_8" href="#a" x="448"/><use id="k45_9" href="#a" x="500"/><use id="k45_10" href="#a" x="552"/><use id="k45_11" href="#a" x="604"/><use id="k45_12" href="#b" x="656"/><use id="k45_13" href="#b" x="708"/><use id="k45_14" href="#b" x="760"/></g>
<g id="row46" transform="translate(0,2402)"><line class="gl" x1="26" y1="0.5" x2="67" y2="0.5"/><line class="gl" x1="777" y1="0.5" x2="818" y2="0.5"/><text class="ll" x="21" y="4">46</text><text class="lr" x="823" y="4">46</text><rect class="bM" x="84" y="-5" width="156" height="10"/><rect class="bR" x="240" y="-5" width="520" height="10"/>
<use id="k46_1" href="#d" x="84"/><use id="k46_2" href="#d" x="136"/><use id="k46_3" href="#d" x="188"/><use id="k46_4" href="#c" x="240"/><use id="k46_5" href="#d" x="292"/><use id="k46_6" href="#d" x="344"/><use id="k46_7" href="#c" x="396"/><use id="k46_8" href="#c" x="448"/><use id="k46_9" href="#c" x="500"/><use id="k46_10" href="#d" x="552"/><use id="k46_11" href="#d" x="604"/><use id="k46_12" href="#d" x="656"/><use id="k46_13" href="#d" x="708"/><use id="k46_14" href="#c" x="760"/></g>
<g id="row47" transform="translate(0,2454)"><line class="gl" x1="26" y1="0.5" x2="67" y2="0.5"/><line class="gl" x1="777" y1="0.5" x2="818" y2="0.5"/><text class="ll" x="21" y="4">47</text><text class="lr" x="823" y="4">47</text><rect class="bM" x="84" y="-5" width="104" height="10"/><rect class="bR" x="188" y="-5" width="572" height="10"/>
<use id="k47_1" href="#b" x="84"/><use id="k47_2" href="#b" x="136"/><use id="k47_3" href="#a" x="188"/><use id="k47_4" href="#a" x="240"/><use id="k47_5" href="#a" x="292"/><use id="k47_6" href="#a" x="344"/><use id="k47_7" href="#a" x="396"/><use id="k47_8" href="#b" x="448"/><use id="k47_9" href="#b" x="500"/><use id="k47_10" href="#a" x="552"/><use id="k47_11" href="#a" x="604"/><use id="k47_12" href="#a" x="656"/><use id="k47_13" href="#a" x="708"/><use id="k47_14" href="#a" x="760"/></g>
<g id="row48" transform="translate(0,2506)"><line class="gl" x1="26" y1="0.5" x2="67" y2="0.5"/><line class="gl" x1="777" y1="0.5" x2="818" y2="0.5"/><text class="ll" x="21" y="4">48</text><text class="lr" x="823" y="4">48</text><rect class="bM" x="84" y="-5" width="52" height="10"/><rect class="bR" x="136" y="-5" width="624" height="10"/>
<use id="k48_1" href="#d" x="84"/><use id="k48_2" href="#c" x="136"/><use id="k48_3" href="#c" x="188"/><use id="k48_4" href="#d" x="240"/><use id="k48_5" href="#c" x="292"/><use id="k48_6" href="#d" x="344"/><use id="k48_7" href="#c" x="396"/><use id="k48_8" href="#c" x="448"/><use id="k48_9" href="#d" x="500"/><use id="k48_10" href="#d" x="552"/><use id="k48_11" href="#c" x="604"/><use id="k48_12" href="#c" x="656"/><use id="k48_13" href="#c" x="708"/><use id="k48_14" href="#c" x="760"/></g>
<g id="row49" transform="translate(0,2558)"><line class="gl" x1="26" y1="0.5" x2="67" y2="0.5"/><line class="gl" x1="777" y1="0.5" x2="818" y2="0.5"/><text class="ll" x="21" y="4">49</text><text class="lr" x="823" y="4">49</text><rect class="bM" x="84" y="-5" width="208" height="10"/><rect class="bR" x="292" y="-5" width="468" height="10"/>
<use id="k49_1" href="#b" x="84"/><use id="k49_2" href="#b" x="136"/><use id="k49_3" href="#b" x="188"/><use id="k49_4" href="#b" x="240"/><use id="k49_5" href="#a" x="292"/><use id="k49_6" href="#b" x="344"/><use id="k49_7" href="#b" x="396"/><use id="k49_8" href="#a" x="448"/><use id="k49_9" href="#b" x="500"/><use id="k49_10" href="#b" x="552"/><use id="k49_11" href="#a" x="604"/><use id="k49_12" href="#a" x="656"/><use id="k49_13" href="#a" x="708"/><use id="k49_14" href="#a" x="760"/></g>
<g id="row50" transform="translate(0,2610)"><line class="gl" x1="26" y1="0.5" x2="67" y2="0.5"/><line class="gl" x1="777" y1="0.5" x2="818" y2="0.5"/><text class="ll" x="21" y="4">50</text><text class="lr" x="823" y="4">50</text><rect class="bM" x="84" y="-5" width="156" height="10"/><rect class="bR" x="240" y="-5" width="520" height="10"/>
<use id="k50_1" href="#d" x="84"/><use id="k50_2" href="#d" x="136"/><use id="k50_3" href="#d" x="188"/><use id="k50_4" href="#c" x="240"/><use id="k50_5" href="#c" x="292"/><use id="k50_6" href="#d" x="344"/><use id="k50_7" href="#d" x="396"/><use id="k50_8" href="#d" x="448"/><use id="k50_9" href="#d" x="500"/><use id="k50_10" href="#d" x="552"/><use id="k50_11" href="#d" x="604"/><use id="k50_12" href="#c" x="656"/><use id="k50_13" href="#c" x="708"/><use id="k50_14" href="#c" x="760"/></g>
<g id="row51" transform="translate(0,2662)"><line class="gl" x1="26" y1="0.5" x2="67" y2="0.5"/><line class="gl" x1="777" y1="0.5" x2="818" y2="0.5"/><text class="ll" x="21" y="4">51</text><text class="lr" x="823" y="4">51</text><rect class="bM" x="84" y="-5" width="104" height="10"/><rect class="bR" x="188" y="-5" width="572" height="10"/>
<use id="k51_1" href="#b" x="84"/><use id="k51_2" href="#b" x="136"/><use id="k51_3" href="#a" x="188"/><use id="k51_4" href="#a" x="240"/><use id="k51_5" href="#a" x="292"/><use id="k51_6" href="#a" x="344"/><use id="k51_7" href="#b" x="396"/><use id="k51_8" href="#b" x="448"/><use id="k51_9" href="#b" x="500"/><use id="k51_10" href="#b" x="552"/><use id="k51_11" href="#b" x="604"/><use id="k51_12" href="#a" x="656"/><use id="k51_13" href="#a" x="708"/><use id="k51_14" href="#a" x="760"/></g>
<g id="row52" transform="translate(0,2714)"><line class="gl" x1="26" y1="0.5" x2="67" y2="0.5"/><line class="gl" x1="777" y1="0.5" x2="818" y2="0.5"/><text class="ll" x="21" y="4">52</text><text class="lr" x="823" y="4">52</text><rect class="bR" x="84" y="-5" width="676" height="10"/>
<use id="k52_1" href="#c" x="84"/><use id="k52_2" href="#c" x="136"/><use id="k52_3" href="#c" x="188"/><use id="k52_4" href="#c" x="240"/><use id="k52_5" href="#c" x="292"/><use id="k52_6" href="#c" x="344"/><use id="k52_7" href="#c" x="396"/><use id="k52_8" href="#d" x="448"/><use id="k52_9" href="#d" x="500"/><use id="k52_10" href="#d" x="552"/><use id="k52_11" href="#d" x="604"/><use id="k52_12" href="#c" x="656"/><use id="k52_13" href="#c" x="708"/><use id="k52_14" href="#c" x="760"/></g>
<g id="row53" transform="translate(0,2766)"><line class="gl" x1="26" y1="0.5" x2="67" y2="0.5"/><line class="gl" x1="777" y1="0.5" x2="818" y2="0.5"/><text class="ll" x="21" y="4">53</text><text class="lr" x="823" y="4">53</text><rect class="bR" x="84" y="-5" width="676" height="10"/>
<use id="k53_1" href="#a" x="84"/><use id="k53_2" href="#a" x="136"/><use id="k53_3" href="#a" x="188"/><use id="k53_4" href="#a" x="240"/><use id="k53_5" href="#a" x="292"/><use id="k53_6" href="#a" x="344"/><use id="k53_7" href="#a" x="396"/><use id="k53_8" href="#a" x="448"/><use id="k53_9" href="#b" x="500"/><use id="k53_10" href="#b" x="552"/><use id="k53_11" href="#a" x="604"/><use id="k53_12" href="#a" x="656"/><use id="k53_13" href="#a" x="708"/><use id="k53_14" href="#a" x="760"/></g>
<g id="row54" transform="translate(0,2818)"><line class="gl" x1="26" y1="0.5" x2="67" y2="0.5"/><line class="gl" x1="777" y1="0.5" x2="818" y2="0.5"/><text class="ll" x="21" y="4">54</text><text class="lr" x="823" y="4">54</text><rect class="bR" x="84" y="-5" width="676" height="10"/>
<use id="k54_1" href="#c" x="84"/><use id="k54_2" href="#c" x="136"/><use id="k54_3" href="#c" x="188"/><use id="k54_4" href="#c" x="240"/><use id="k54_5" href="#c" x="292"/><use id="k54_6" href="#c" x="344"/><use id="k54_7" href="#c" x="396"/><use id="k54_8" href="#c" x="448"/><use id="k54_9" href="#c" x="500"/><use id="k54_10" href="#c" x="552"/><use id="k54_11" href="#c" x="604"/><use id="k54_12" href="#c" x="656"/><use id="k54_13" href="#c" x="708"/><use id="k54_14" href="#c" x="760"/></g>
<g id="row55" transform="translate(0,2870)"><line class="gl" x1="26" y1="0.5" x2="67" y2="0.5"/><line class="gl" x1="777" y1="0.5" x2="818" y2="0.5"/><text class="ll" x="21" y="4">55</text><text class="lr" x="823" y="4">55</text><rect class="bR" x="84" y="-5" width="676" height="10"/>
<use id="k55_1" href="#a" x="84"/><use id="k55_2" href="#a" x="136"/><use id="k55_3" href="#a" x="188"/><use id="k55_4" href="#a" x="240"/><use id="k55_5" href="#a" x="292"/><use id="k55_6" href="#a" x="344"/><use id="k55_7" href="#a" x="396"/><use id="k55_8" href="#a" x="448"/><use id="k55_9" href="#a" x="500"/><use id="k55_10" href="#b" x="552"/><use id="k55_11" href="#b" x="604"/><use id="k55_12" href="#b" x="656"/><use id="k55_13" href="#a" x="708"/><use id="k55_14" href="#a" x="760"/></g>
<g id="row56" transform="translate(0,2922)"><line class="gl" x1="26" y1="0.5" x2="67" y2="0.5"/><line class="gl" x1="777" y1="0.5" x2="818" y2="0.5"/><text class="ll" x="21" y="4">56</text><text class="lr" x="823" y="4">56</text><rect class="bR" x="84" y="-5" width="676" height="10"/>
<use id="k56_1" href="#c" x="84"/><use id="k56_2" href="#c" x="136"/><use id="k56_3" href="#c" x="188"/><use id="k56_4" href="#c" x="240"/><use id="k56_5" href="#c" x="292"/><use id="k56_6" href="#c" x="344"/><use id="k56_7" href="#c" x="396"/><use id="k56_8" href="#c" x="448"/><use id="k56_9" href="#d" x="500"/><use id="k56_10" href="#d" x="552"/><use id="k56_11" href="#d" x="604"/><use id="k56_12" href="#d" x="656"/><use id="k56_13" href="#d" x="708"/><use id="k56_14" href="#c" x="760"/></g>
<g id="row57" transform="translate(0,2974)"><line class="gl" x1="26" y1="0.5" x2="67" y2="0.5"/><line class="gl" x1="777" y1="0.5" x2="818" y2="0.5"/><text class="ll" x="21" y="4">57</text><text class="lr" x="823" y="4">57</text><rect class="bR" x="84" y="-5" width="676" height="10"/>
<use id="k57_1" href="#a" x="84"/><use id="k57_2" href="#b" x="136"/><use id="k57_3" href="#b" x="188"/><use id="k57_4" href="#b" x="240"/><use id="k57_5" href="#a" x="292"/><use id="k57_6" href="#a" x="344"/><use id="k57_7" href="#a" x="396"/><use id="k57_8" href="#b" x="448"/><use id="k57_9" href="#b" x="500"/><use id="k57_10" href="#b" x="552"/><use id="k57_11" href="#b" x="604"/><use id="k57_12" href="#b" x="656"/><use id="k57_13" href="#b" x="708"/><use id="k57_14" href="#a" x="760"/></g>
<g id="row58" transform="translate(0,3026)"><line class="gl" x1="26" y1="0.5" x2="67" y2="0.5"/><line class="gl" x1="777" y1="0.5" x2="818" y2="0.5"/><text class="ll" x="21" y="4">58</text><text class="lr" x="823" y="4">58</text><rect class="bM" x="84" y="-5" width="260" height="10"/><rect class="bR" x="344" y="-5" width="416" height="10"/>
<use id="k58_1" href="#d" x="84"/><use id="k58_2" href="#d" x="136"/><use id="k58_3" href="#d" x="188"/><use id="k58_4" href="#d" x="240"/><use id="k58_5" href="#d" x="292"/><use id="k58_6" href="#c" x="344"/><use id="k58_7" href="#c" x="396"/><use id="k58_8" href="#d" x="448"/><use id="k58_9" href="#d" x="500"/><use id="k58_10" href="#c" x="552"/><use id="k58_11" href="#d" x="604"/><use id="k58_12" href="#d" x="656"/><use id="k58_13" href="#d" x="708"/><use id="k58_14" href="#c" x="760"/></g>
<g id="row59" transform="translate(0,3078)"><line class="gl" x1="26" y1="0.5" x2="67" y2="0.5"/><line class="gl" x1="777" y1="0.5" x2="818" y2="0.5"/><text class="ll" x="21" y="4">59</text><text class="lr" x="823" y="4">59</text><rect class="bM" x="84" y="-5" width="312" height="10"/><rect class="bR" x="396" y="-5" width="364" height="10"/>
<use id="k59_1" href="#b" x="84"/><use id="k59_2" href="#b" x="136"/><use id="k59_3" href="#b" x="188"/><use id="k59_4" href="#b" x="240"/><use id="k59_5" href="#b" x="292"/><use id="k59_6" href="#b" x="344"/><use id="k59_7" href="#a" x="396"/><use id="k59_8" href="#b" x="448"/><use id="k59_9" href="#a" x="500"/><use id="k59_10" href="#a" x="552"/><use id="k59_11" href="#b" x="604"/><use id="k59_12" href="#b" x="656"/><use id="k59_13" href="#a" x="708"/><use id="k59_14" href="#a" x="760"/></g>
<g id="row60" transform="translate(0,3130)"><line class="gl" x1="26" y1="0.5" x2="67" y2="0.5"/><line class="gl" x1="777" y1="0.5" x2="818" y2="0.5"/><text class="ll" x="21" y="4">60</text><text class="lr" x="823" y="4">60</text><rect class="bM" x="84" y="-5" width="156" height="10"/><rect class="bR" x="240" y="-5" width="416" height="10"/><rect class="bM" x="656" y="-5" width="104" height="10"/>
<use id="k60_1" href="#d" x="84"/><use id="k60_2" href="#d" x="136"/><use id="k60_3" href="#d" x="188"/><use id="k60_4" href="#c" x="240"/><use id="k60_5" href="#c" x="292"/><use id="k60_6" href="#d" x="344"/><use id="k60_7" href="#c" x="396"/><use id="k60_8" href="#c" x="448"/><use id="k60_9" href="#c" x="500"/><use id="k60_10" href="#d" x="552"/><use id="k60_11" href="#d" x="604"/><use id="k60_12" href="#c" x="656"/><use id="k60_13" href="#d" x="708"/><use id="k60_14" href="#d" x="760"/></g>
<g id="row61" transform="translate(0,3182)"><line class="gl" x1="26" y1="0.5" x2="67" y2="0.5"/><line class="gl" x1="777" y1="0.5" x2="818" y2="0.5"/><text class="ll" x="21" y="4">61</text><text class="lr" x="823" y="4">61</text><rect class="bR" x="84" y="-5" width="520" height="10"/><rect class="bM" x="604" y="-5" width="156" height="10"/>
<use id="k61_1" href="#a" x="84"/><use id="k61_2" href="#b" x="136"/><use id="k61_3" href="#b" x="188"/><use id="k61_4" href="#b" x="240"/><use id="k61_5" href="#a" x="292"/><use id="k61_6" href="#a" x="344"/><use id="k61_7" href="#a" x="396"/><use id="k61_8" href="#b" x="448"/><use id="k61_9" href="#b" x="500"/><use id="k61_10" href="#a" x="552"/><use id="k61_11" href="#a" x="604"/><use id="k61_12" href="#b" x="656"/><use id="k61_13" href="#b" x="708"/><use id="k61_14" href="#b" x="760"/></g>
<g id="row62" transform="translate(0,3234)"><line class="gl" x1="26" y1="0.5" x2="67" y2="0.5"/><line class="gl" x1="777" y1="0.5" x2="818" y2="0.5"/><text class="ll" x="21" y="4">62</text><text class="lr" x="823" y="4">62</text><rect class="bR" x="84" y="-5" width="676" height="10"/>
<use id="k62_1" href="#c" x="84"/><use id="k62_2" href="#c" x="136"/><use id="k62_3" href="#d" x="188"/><use id="k62_4" href="#d" x="240"/><use id="k62_5" href="#d" x="292"/><use id="k62_6" href="#c" x="344"/><use id="k62_7" href="#d" x="396"/><use id="k62_8" href="#d" x="448"/><use id="k62_9" href="#d" x="500"/><use id="k62_10" href="#d" x="552"/><use id="k62_11" href="#c" x="604"/><use id="k62_12" href="#d" x="656"/><use id="k62_13" href="#c" x="708"/><use id="k62_14" href="#c" x="760"/></g>
<g id="row63" transform="translate(0,3286)"><line class="gl" x1="26" y1="0.5" x2="67" y2="0.5"/><line class="gl" x1="777" y1="0.5" x2="818" y2="0.5"/><text class="ll" x="21" y="4">63</text><text class="lr" x="823" y="4">63</text><rect class="bR" x="84" y="-5" width="624" height="10"/><rect class="bM" x="708" y="-5" width="52" height="10"/>
<use id="k63_1" href="#a" x="84"/><use id="k63_2" href="#a" x="136"/><use id="k63_3" href="#a" x="188"/><use id="k63_4" href="#a" x="240"/><use id="k63_5" href="#a" x="292"/><use id="k63_6" href="#a" x="344"/><use id="k63_7" href="#b" x="396"/><use id="k63_8" href="#b" x="448"/><use id="k63_9" href="#b" x="500"/><use id="k63_10" href="#b" x="552"/><use id="k63_11" href="#a" x="604"/><use id="k63_12" href="#a" x="656"/><use id="k63_13" href="#a" x="708"/><use id="k63_14" href="#b" x="760"/></g>
<g id="row64" transform="translate(0,3338)"><line class="gl" x1="26" y1="0.5" x2="67" y2="0.5"/><line class="gl" x1="777" y1="0.5" x2="818" y2="0.5"/><text class="ll" x="21" y="4">64</text><text class="lr" x="823" y="4">64</text><rect class="bR" x="84" y="-5" width="572" height="10"/><rect class="bM" x="656" y="-5" width="104" height="10"/>
<use id="k64_1" href="#c" x="84"/><use id="k64_2" href="#c" x="136"/><use id="k64_3" href="#c" x="188"/><use id="k64_4" href="#d" x="240"/><use id="k64_5" href="#d" x="292"/><use id="k64_6" href="#c" x="344"/><use id="k64_7" href="#c" x="396"/><use id="k64_8" href="#d" x="448"/><use id="k64_9" href="#d" x="500"/><use id="k64_10" href="#c" x="552"/><use id="k64_11" href="#c" x="604"/><use id="k64_12" href="#c" x="656"/><use id="k64_13" href="#d" x="708"/><use id="k64_14" href="#d" x="760"/></g>
<g id="row65" transform="translate(0,3390)"><line class="gl" x1="26" y1="0.5" x2="67" y2="0.5"/><line class="gl" x1="777" y1="0.5" x2="818" y2="0.5"/><text class="ll" x="21" y="4">65</text><text class="lr" x="823" y="4">65</text><rect class="bR" x="84" y="-5" width="676" height="10"/>
<use id="k65_1" href="#a" x="84"/><use id="k65_2" href="#a" x="136"/><use id="k65_3" href="#b" x="188"/><use id="k65_4" href="#b" x="240"/><use id="k65_5" href="#a" x="292"/><use id="k65_6" href="#a" x="344"/><use id="k65_7" href="#b" x="396"/><use id="k65_8" href="#a" x="448"/><use id="k65_9" href="#a" x="500"/><use id="k65_10" href="#a" x="552"/><use id="k65_11" href="#b" x="604"/><use id="k65_12" href="#b" x="656"/><use id="k65_13" href="#a" x="708"/><use id="k65_14" href="#a" x="760"/></g>
<g id="row66" transform="translate(0,3442)"><line class="gl" x1="26" y1="0.5" x2="67" y2="0.5"/><line class="gl" x1="777" y1="0.5" x2="818" y2="0.5"/><text class="ll" x="21" y="4">66</text><text class="lr" x="823" y="4">66</text><rect class="bR" x="84" y="-5" width="676" height="10"/>
<use id="k66_1" href="#c" x="84"/><use id="k66_2" href="#d" x="136"/><use id="k66_3" href="#d" x="188"/><use id="k66_4" href="#d" x="240"/><use id="k66_5" href="#c" x="292"/><use id="k66_6" href="#d" x="344"/><use id="k66_7" href="#d" x="396"/><use id="k66_8" href="#c" x="448"/><use id="k66_9" href="#d" x="500"/><use id="k66_10" href="#c" x="552"/><use id="k66_11" href="#c" x="604"/><use id="k66_12" href="#d" x="656"/><use id="k66_13" href="#d" x="708"/><use id="k66_14" href="#c" x="760"/></g>
<g id="row67" transform="translate(0,3494)"><line class="gl" x1="26" y1="0.5" x2="67" y2="0.5"/><line class="gl" x1="777" y1="0.5" x2="818" y2="0.5"/><text class="ll" x="21" y="4">67</text><text class="lr" x="823" y="4">67</text><rect class="bR" x="84" y="-5" width="520" height="10"/><rect class="bM" x="604" y="-5" width="156" height="10"/>
<use id="k67_1" href="#a" x="84"/><use id="k67_2" href="#b" x="136"/><use id="k67_3" href="#b" x="188"/><use id="k67_4" href="#b" x="240"/><use id="k67_5" href="#b" x="292"/><use id="k67_6" href="#b" x="344"/><use id="k67_7" href="#b" x="396"/><use id="k67_8" href="#a" x="448"/><use id="k67_9" href="#b" x="500"/><use id="k67_10" href="#b" x="552"/><use id="k67_11" href="#a" x="604"/><use id="k67_12" href="#b" x="656"/><use id="k67_13" href="#b" x="708"/><use id="k67_14" href="#b" x="760"/></g>
<g id="row68" transform="translate(0,3546)"><line class="gl" x1="26" y1="0.5" x2="67" y2="0.5"/><line class="gl" x1="777" y1="0.5" x2="818" y2="0.5"/><text class="ll" x="21" y="4">68</text><text class="lr" x="823" y="4">68</text><rect class="bR" x="84" y="-5" width="364" height="10"/><rect class="bM" x="448" y="-5" width="312" height="10"/>
<use id="k68_1" href="#c" x="84"/><use id="k68_2" href="#d" x="136"/><use id="k68_3" href="#d" x="188"/><use id="k68_4" href="#d" x="240"/><use id="k68_5" href="#d" x="292"/><use id="k68_6" href="#d" x="344"/><use id="k68_7" href="#c" x="396"/><use id="k68_8" href="#c" x="448"/><use id="k68_9" href="#d" x="500"/><use id="k68_10" href="#d" x="552"/><use id="k68_11" href="#d" x="604"/><use id="k68_12" href="#d" x="656"/><use id="k68_13" href="#d" x="708"/><use id="k68_14" href="#d" x="760"/></g>
<g id="row69" transform="translate(0,3598)"><line class="gl" x1="26" y1="0.5" x2="67" y2="0.5"/><line class="gl" x1="777" y1="0.5" x2="818" y2="0.5"/><text class="ll" x="21" y="4">69</text><text class="lr" x="823" y="4">69</text><rect class="bR" x="84" y="-5" width="416" height="10"/><rect class="bM" x="500" y="-5" width="260" height="10"/>
<use id="k69_1" href="#a" x="84"/><use id="k69_2" href="#a" x="136"/><use id="k69_3" href="#b" x="188"/><use id="k69_4" href="#b" x="240"/><use id="k69_5" href="#b" x="292"/><use id="k69_6" href="#a" x="344"/><use id="k69_7" href="#a" x="396"/><use id="k69_8" href="#a" x="448"/><use id="k69_9" href="#a" x="500"/><use id="k69_10" href="#b" x="552"/><use id="k69_11" href="#b" x="604"/><use id="k69_12" href="#b" x="656"/><use id="k69_13" href="#b" x="708"/><use id="k69_14" href="#b" x="760"/></g>
<g id="row70" transform="translate(0,3650)"><line class="gl" x1="777" y1="0.5" x2="818" y2="0.5"/><text class="ll" x="21" y="4">70</text><text class="lr" x="823" y="4">70</text><rect class="bM" x="27" y="-5" width="62" height="10" rx="5"/><text class="tl" x="34" y="4">B</text><rect class="bR" x="84" y="-5" width="676" height="10"/>
<use id="k70_1" href="#c" x="84"/><use id="k70_2" href="#c" x="136"/><use id="k70_3" href="#c" x="188"/><use id="k70_4" href="#c" x="240"/><use id="k70_5" href="#c" x="292"/><use id="k70_6" href="#c" x="344"/><use id="k70_7" href="#c" x="396"/><use id="k70_8" href="#c" x="448"/><use id="k70_9" href="#c" x="500"/><use id="k70_10" href="#c" x="552"/><use id="k70_11" href="#d" x="604"/><use id="k70_12" href="#d" x="656"/><use id="k70_13" href="#d" x="708"/><use id="k70_14" href="#c" x="760"/></g>
<g id="row71" transform="translate(0,3702)"><line class="gl" x1="26" y1="0.5" x2="67" y2="0.5"/><text class="ll" x="21" y="4">71</text><text class="lr" x="823" y="4">71</text><rect class="bR" x="755" y="-5" width="62" height="10" rx="5"/><text class="tl" x="810" y="4">A</text><rect class="bR" x="84" y="-5" width="676" height="10"/>
<use id="k71_1" href="#a" x="84"/><use id="k71_2" href="#a" x="136"/><use id="k71_3" href="#a" x="188"/><use id="k71_4" href="#a" x="240"/><use id="k71_5" href="#a" x="292"/><use id="k71_6" href="#a" x="344"/><use id="k71_7" href="#a" x="396"/><use id="k71_8" href="#a" x="448"/><use id="k71_9" href="#a" x="500"/><use id="k71_10" href="#a" x="552"/><use id="k71_11" href="#a" x="604"/><use id="k71_12" href="#a" x="656"/><use id="k71_13" href="#a" x="708"/><use id="k71_14" href="#a" x="760"/></g>
<text class="wm" x="422" y="1913">BRACELETBOOK.COM</text>
</svg>
